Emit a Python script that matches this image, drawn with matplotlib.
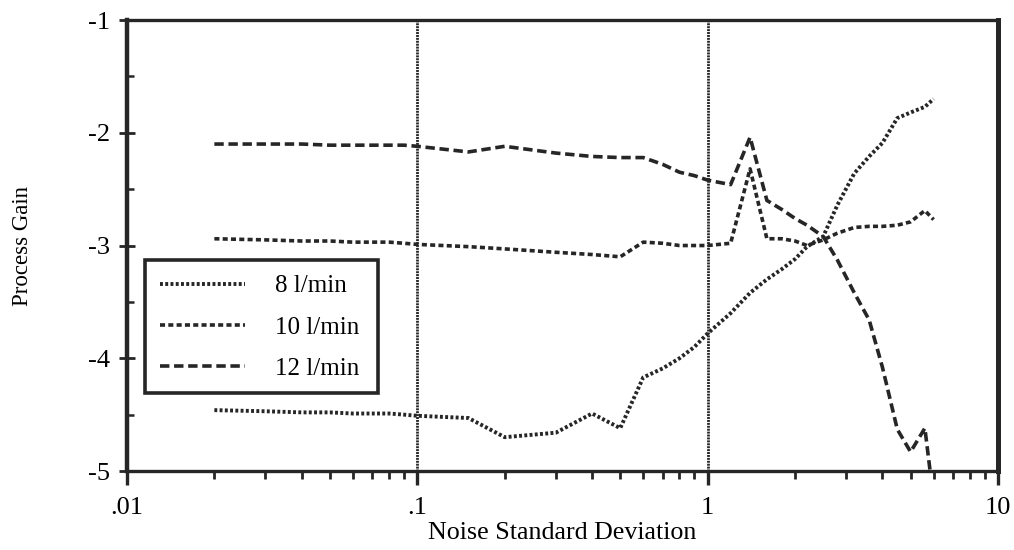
import matplotlib
matplotlib.use("Agg")
import matplotlib.pyplot as plt
from matplotlib.patches import Rectangle
from matplotlib.ticker import FixedLocator, FixedFormatter, LogLocator, NullFormatter, MultipleLocator

plt.rcParams['font.family'] = ['Liberation Serif', 'DejaVu Serif']

# noise standard deviation (shared by all three flow rates)
noise_sd = [0.02, 0.03, 0.04, 0.05, 0.06, 0.07, 0.08, 0.09, 0.1, 0.15, 0.2, 0.3,
            0.4, 0.5, 0.6, 0.7, 0.8, 0.9, 1.0, 1.2, 1.4, 1.6, 1.8, 2.0, 2.2, 2.5,
            2.8, 3.2, 3.6, 4.0, 4.5, 5.0, 5.6, 6.0]

gain_8 = [-4.46, -4.47, -4.48, -4.48, -4.49, -4.49, -4.49, -4.50, -4.51, -4.53, -4.70, -4.66,
          -4.49, -4.62, -4.17, -4.09, -4.00, -3.90, -3.78, -3.60, -3.42, -3.30, -3.21, -3.12,
          -3.01, -2.92, -2.64, -2.36, -2.21, -2.09, -1.87, -1.82, -1.77, -1.70]

gain_10 = [-2.94, -2.95, -2.96, -2.96, -2.97, -2.97, -2.97, -2.98, -2.99, -3.01, -3.03, -3.06,
           -3.08, -3.10, -2.97, -2.98, -3.00, -3.00, -3.00, -2.98, -2.32, -2.94, -2.94, -2.96,
           -3.00, -2.95, -2.89, -2.84, -2.83, -2.83, -2.82, -2.79, -2.69, -2.77]

gain_12 = [-2.10, -2.10, -2.10, -2.11, -2.11, -2.11, -2.11, -2.11, -2.12, -2.17, -2.12, -2.18,
           -2.21, -2.22, -2.22, -2.28, -2.35, -2.38, -2.42, -2.46, -2.04, -2.60, -2.68, -2.76,
           -2.82, -2.92, -3.13, -3.42, -3.66, -4.08, -4.63, -4.83, -4.62, -5.25]

labels = ['8 l/min', '10 l/min', '12 l/min']
ink = '#262626'

fig = plt.figure(figsize=(10.14, 5.5), dpi=100)
ax = fig.add_axes([0.1252, 0.1436, 0.859, 0.82])

ax.plot(noise_sd, gain_8, color=ink, lw=2.8, ls=(0, (0.75, 0.6)), label=labels[0])
ax.plot(noise_sd, gain_10, color=ink, lw=2.6, ls=(0, (1.4, 0.9)), label=labels[1])
ax.plot(noise_sd, gain_12, color=ink, lw=2.6, ls=(0, (2.6, 1.3)), label=labels[2])

# decade grid lines
for xv in (0.1, 1):
    ax.axvline(xv, color=ink, lw=2.0, ls=(0, (0.7, 0.35)), zorder=1)

ax.set_xscale('log')
ax.set_xlim(0.01, 10)
ax.set_ylim(-5, -1)

ax.xaxis.set_major_locator(FixedLocator([0.01, 0.1, 1, 10]))
ax.xaxis.set_major_formatter(FixedFormatter(['.01', '.1', '1', '10']))
ax.xaxis.set_minor_locator(LogLocator(base=10, subs=range(2, 10)))
ax.xaxis.set_minor_formatter(NullFormatter())

ax.yaxis.set_major_locator(FixedLocator([-5, -4, -3, -2, -1]))
ax.yaxis.set_major_formatter(FixedFormatter(['-5', '-4', '-3', '-2', '-1']))
ax.yaxis.set_minor_locator(MultipleLocator(0.5))

ax.tick_params(axis='x', which='major', direction='out', length=10, width=2.4, color=ink,
               labelsize=19, pad=9)
ax.tick_params(axis='x', which='minor', direction='out', length=6, width=2.0, color=ink)
ax.tick_params(axis='y', which='major', direction='inout', length=12, width=2.0, color=ink,
               labelsize=19, pad=6)
ax.tick_params(axis='y', which='minor', direction='in', length=5, width=1.8, color=ink)

for side, w in (('left', 3.2), ('bottom', 2.4), ('top', 2.4), ('right', 3.6)):
    ax.spines[side].set_linewidth(w)
    ax.spines[side].set_color(ink)

ax.set_xlabel('Noise Standard Deviation', fontsize=18.7, labelpad=2)
ax.set_ylabel('Process Gain', fontsize=16.5, labelpad=40)

# legend entries without their own frame, boxed by a separate rectangle
leg = ax.legend(loc='upper left', bbox_to_anchor=(0.0207, 0.468), borderaxespad=0,
                frameon=False, fontsize=18, handlelength=3.4,
                handletextpad=1.2, labelspacing=0.75, borderpad=0.6)
box = Rectangle((0.0207, 0.173), 0.267, 0.295, transform=ax.transAxes, fill=True,
                facecolor='white', edgecolor=ink, lw=2.6, zorder=4)
ax.add_patch(box)
leg.set_zorder(5)

fig.savefig('out.png', dpi=100)
